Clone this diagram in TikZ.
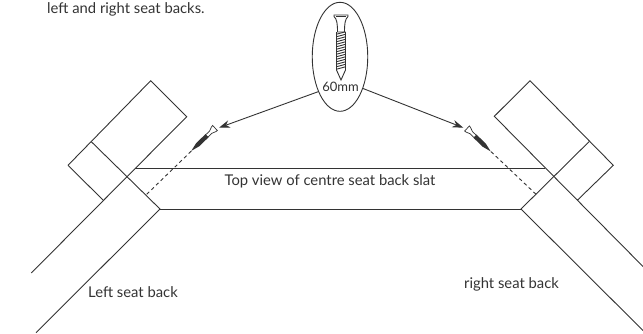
\documentclass[tikz,border=0pt]{standalone}
\usepackage{fontspec}
\setmainfont{Lato}
\usetikzlibrary{arrows.meta,shapes.geometric}
\definecolor{ink}{HTML}{333333}
\tikzset{
  x=1pt,y=-1pt,
  wood/.style={draw=ink,line width=0.9pt,line join=miter},
  guide/.style={draw=ink,line width=0.9pt,dash pattern=on 3.5pt off 3pt},
  pointer/.style={draw=ink,line width=0.9pt,-{Stealth[length=11pt,width=7.5pt]}},
  label/.style={text=ink,font=\fontsize{14.8}{16}\selectfont,inner sep=0pt},
  oval/.style={draw=ink,line width=0.9pt,fill=white,ellipse,minimum width=55.5pt,minimum height=109pt,inner sep=0pt},
  smallscrew/.pic={
    \draw[ink,line width=0.7pt,fill=white] (0,-3.5) -- (0,3.5) -- (1.8,3.2) -- (6,1.6) -- (12,1.6) -- (12,-1.6) -- (6,-1.6) -- (1.8,-3.2) -- cycle;
    \fill[ink] (11,-2.2) -- (24,-2.2) -- (33,0) -- (24,2.2) -- (11,2.2) -- cycle;
  }
}
\begin{document}
\begin{tikzpicture}
\useasboundingbox (0,0) rectangle (643,333);
% left seat back
\coordinate (la) at (150.7,80.7);
\coordinate (lb) at (186.7,116.7);
\coordinate (lc) at (68,165.3);
\coordinate (ld) at (103.3,200.3);
\coordinate (le) at (91.3,141.7);
\coordinate (lf) at (160,209);
\coordinate (lg) at (31.3,273);
\coordinate (lh) at (36,332.7);
\draw[wood] (lh) -- (lf) -- (le);
\draw[wood] (lc) -- (la) -- (lb) -- (lg);
\draw[wood] (lc) -- (ld);
% right seat back
\coordinate (ra) at (530,80.7);
\coordinate (rb) at (494.3,116.3);
\coordinate (rc) at (613.3,165.3);
\coordinate (rd) at (577.3,200.3);
\coordinate (re) at (589,141.7);
\coordinate (rf) at (521,209);
\coordinate (rg) at (643,266.5);
\coordinate (rh) at (643,330.5);
\draw[wood] (rh) -- (rf) -- (re);
\draw[wood] (rd) -- (rc) -- (ra) -- (rb) -- (rg);
% slat
\coordinate (sa) at (135,168.3);
\coordinate (sb) at (545.3,168.3);
\draw[wood] (sa) -- (sb);
\draw[wood] (lf) -- (rf);
% dashed screw paths
\coordinate (lda) at (146.7,194.3);
\coordinate (ldb) at (191.7,150.7);
\coordinate (rda) at (536,194.3);
\coordinate (rdb) at (490,150.7);
\draw[guide] (lda) -- (ldb);
\draw[guide] (rda) -- (rdb);
\pic[rotate=224] at (215,128) {smallscrew};
\pic[rotate=316] at (467,128.5) {smallscrew};
% arrows
\node[oval] (zoom) at (340,56.8) {};
\coordinate (lt) at (219,127.7);
\coordinate (rt) at (463.3,127.7);
\draw[pointer] (zoom.238) -- (lt);
\draw[pointer] (zoom.306) -- (rt);
% large screw
\draw[ink,line width=0.9pt] (334,15) -- (348,15) -- (348,16.5) .. controls (345,19) and (344.5,24) .. (344.5,32) -- (337.5,32) .. controls (337.5,24) and (337,19) .. (334,16.5) -- cycle;
\draw[ink,line width=0.7pt] (336,16) -- (346,16);
\draw[ink,line width=0.9pt] (336.5,32) -- (336.5,70) -- (341,80) -- (345.5,70) -- (345.5,32);
\foreach \yy in {33,35.5,...,70} {\draw[ink,line width=0.9pt] (336.5,\yy+1.2) -- (345.5,\yy-1.2);}
% labels
\node[label,anchor=west] (note) at (47,9) {left and right seat backs.};
\node[label,font=\fontsize{13}{15}\selectfont] (size) at (340.5,87) {60mm};
\node[label] (top) at (330,181) {Top view of centre seat back slat};
\node[label] (left) at (133,292) {Left seat back};
\node[label] (right) at (511.5,284) {right seat back};
\end{tikzpicture}
\end{document}
